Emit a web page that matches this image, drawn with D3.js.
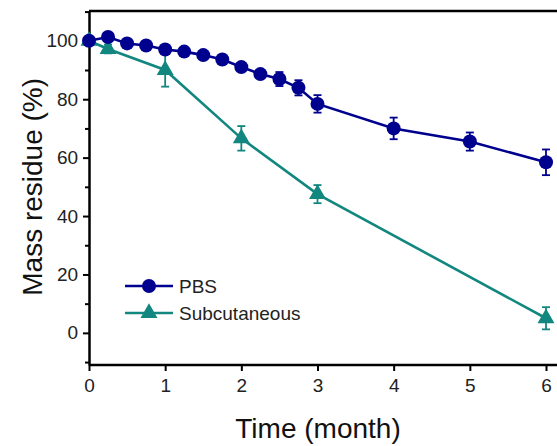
<!DOCTYPE html>
<html>
<head>
<meta charset="utf-8">
<script src="https://cdn.jsdelivr.net/npm/d3@7"></script>
<style>
  body { margin: 0; background: #fff; }
  svg { display: block; font-family: Arial, "Liberation Sans", sans-serif; }
</style>
</head>
<body>
<div id="chart"></div>
<script>
// data
const pbsTime  = [0, 0.25, 0.5, 0.75, 1, 1.25, 1.5, 1.75, 2, 2.25, 2.5, 2.75, 3, 4, 5, 6];
const pbsMass  = [100, 101.3, 99.1, 98.4, 97.0, 96.3, 95.1, 93.6, 91.0, 88.6, 86.9, 83.9, 78.4, 70.0, 65.5, 58.4];
const pbsErr   = [1, 1, 1, 1, 1, 1, 1, 1, 1.2, 1.3, 2.4, 2.6, 3.0, 3.7, 3.1, 4.4];
const subTime  = [0, 0.25, 1, 2, 3, 6];
const subMass  = [100, 97.2, 90.0, 66.6, 47.5, 5.0];
const subErr   = [1, 1.5, 5.7, 4.2, 3.1, 3.8];
const xTicks   = [0, 1, 2, 3, 4, 5, 6];
const yTicks   = [0, 20, 40, 60, 80, 100];
const yMinor   = [-10, 10, 30, 50, 70, 90, 110];

const W = 557, H = 446;
const pbsColor = "#00008f", subColor = "#12877f";

const svg = d3.select("#chart").append("svg")
    .attr("width", W).attr("height", H);

const x = d3.scaleLinear().domain([0, 6]).range([89, 546]);
const y = d3.scaleLinear().domain([-11, 110.2]).range([365, 11]);

// frame: top line (right side is cut off by the picture)
svg.append("line")
    .attr("x1", x(0)).attr("x2", W + 5)
    .attr("y1", y(110.2)).attr("y2", y(110.2))
    .attr("stroke", "#000").attr("stroke-width", 2.5);

// axes
const xAxis = svg.append("g")
    .attr("transform", `translate(0,${y(-11)})`)
    .call(d3.axisBottom(x).tickValues(xTicks).tickFormat(d3.format("d")).tickSize(6).tickSizeOuter(0));
const yAxis = svg.append("g")
    .attr("transform", `translate(${x(0)},0)`)
    .call(d3.axisLeft(y).tickValues(yTicks).tickSize(6).tickSizeOuter(0));
svg.append("g")
    .attr("transform", `translate(${x(0)},0)`)
    .call(d3.axisLeft(y).tickValues(yMinor).tickSize(4).tickFormat("").tickSizeOuter(0))
    .call(g => g.select(".domain").remove())
    .selectAll("line").attr("stroke-width", 2);

xAxis.select(".domain").attr("stroke-width", 2.5).attr("d", `M${x(0)},0H${W + 5}`);
yAxis.select(".domain").attr("stroke-width", 2.5);
[xAxis, yAxis].forEach(g => {
  g.selectAll(".tick line").attr("stroke-width", 2);
  g.selectAll(".tick text").attr("font-size", 19).attr("fill", "#222")
    .attr("font-family", "Arial, 'Liberation Sans', sans-serif");
});
xAxis.selectAll(".tick text").attr("dy", "0.95em");
yAxis.selectAll(".tick text").attr("dx", "-0.1em");

// axis titles
svg.append("text")
    .attr("x", 318).attr("y", 438)
    .attr("text-anchor", "middle")
    .attr("font-size", 28).attr("fill", "#111")
    .text("Time (month)");
svg.append("text")
    .attr("transform", `translate(42,${y(50)}) rotate(-90)`)
    .attr("text-anchor", "middle")
    .attr("font-size", 28).attr("fill", "#111")
    .text("Mass residue (%)");

const tri = d3.symbol().type(d3.symbolTriangle).size(125);

function drawSeries(times, vals, errs, color, marker) {
  const pts = times.map((t, i) => ({t, v: vals[i], e: errs[i]}));
  const g = svg.append("g");
  g.append("path")
      .datum(pts)
      .attr("fill", "none").attr("stroke", color).attr("stroke-width", 2.6)
      .attr("d", d3.line().x(d => x(d.t)).y(d => y(d.v)));
  const eb = g.selectAll(".eb").data(pts).enter().append("g")
      .attr("stroke", color).attr("stroke-width", 1.8);
  eb.append("line")
      .attr("x1", d => x(d.t)).attr("x2", d => x(d.t))
      .attr("y1", d => y(d.v - d.e)).attr("y2", d => y(d.v + d.e));
  eb.append("line")
      .attr("x1", d => x(d.t) - 4).attr("x2", d => x(d.t) + 4)
      .attr("y1", d => y(d.v - d.e)).attr("y2", d => y(d.v - d.e));
  eb.append("line")
      .attr("x1", d => x(d.t) - 4).attr("x2", d => x(d.t) + 4)
      .attr("y1", d => y(d.v + d.e)).attr("y2", d => y(d.v + d.e));
  if (marker === "circle") {
    g.selectAll(".m").data(pts).enter().append("circle")
        .attr("cx", d => x(d.t)).attr("cy", d => y(d.v)).attr("r", 7)
        .attr("fill", color);
  } else {
    g.selectAll(".m").data(pts).enter().append("path")
        .attr("d", tri)
        .attr("transform", d => `translate(${x(d.t)},${y(d.v)})`)
        .attr("fill", color);
  }
}

drawSeries(subTime, subMass, subErr, subColor, "triangle");
drawSeries(pbsTime, pbsMass, pbsErr, pbsColor, "circle");

// legend
const legend = [
  {name: "PBS", color: pbsColor, marker: "circle"},
  {name: "Subcutaneous", color: subColor, marker: "triangle"}
];
const lg = svg.append("g").selectAll("g").data(legend).enter().append("g")
    .attr("transform", (d, i) => `translate(125,${286 + i * 27})`);
lg.append("line").attr("x1", 0).attr("x2", 48)
    .attr("stroke", d => d.color).attr("stroke-width", 2.6);
lg.each(function(d) {
  const s = d3.select(this);
  if (d.marker === "circle") s.append("circle").attr("cx", 24).attr("r", 7).attr("fill", d.color);
  else s.append("path").attr("d", tri).attr("transform", "translate(24,0)").attr("fill", d.color);
});
lg.append("text").attr("x", 54).attr("dy", "0.35em")
    .attr("font-size", 19).attr("fill", "#222")
    .text(d => d.name);
</script>
</body>
</html>
